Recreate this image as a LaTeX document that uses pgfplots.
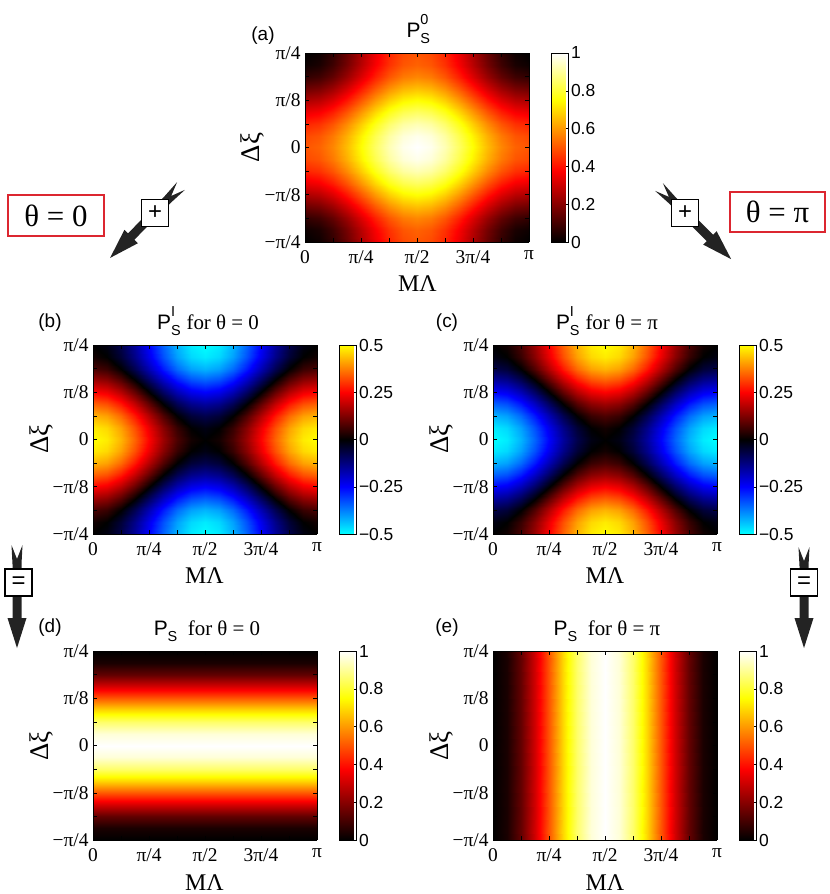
\documentclass[border=0pt]{standalone}
\usepackage{fontspec}
\setmainfont{Liberation Serif}
\setsansfont{Liberation Sans}
\usepackage{pgfplots}
\pgfplotsset{compat=1.18}
\usepackage{pgfplotstable}

\definecolor{boxred}{RGB}{220,38,48}
\definecolor{arrowgray}{RGB}{35,35,35}

\pgfplotsset{
  colormap={mhot}{rgb(0cm)=(0,0,0); rgb(3cm)=(1,0,0); rgb(6cm)=(1,1,0); rgb(8cm)=(1,1,1)},
  colormap={cbr}{rgb(0cm)=(0,1,1); rgb(1cm)=(0,0,1); rgb(2cm)=(0,0,0); rgb(3cm)=(1,0,0); rgb(4cm)=(1,1,0)},
  panel/.style={
    view={0}{90},
    scale only axis, width=224bp, height=189bp,
    xmin=0, xmax=16, ymin=-8, ymax=8,
    enlargelimits=false,
    xtick={0,4,8,12,16}, xticklabels={0,π/4,π/2,3π/4,π},
    ytick={-8,-4,0,4,8}, yticklabels={−π/4,−π/8,0,π/8,π/4},
    minor xtick={2,6,10,14}, minor ytick={-6,-2,2,6},
    ztick=\empty,
    tick align=inside,
    major tick length=4bp, minor tick length=4bp,
    tick style={black, line width=0.5bp},
    axis line style={line width=0.6bp},
    ticklabel style={font=\fontsize{19.5}{19.5}\selectfont},
    xticklabel style={yshift=-5bp},
    yticklabel style={xshift=-1bp},
    colorbar,
    colorbar style={
      at={(parent axis.north east)}, anchor=north west, xshift=14bp,
      scale only axis, width=17bp, height=189bp,
      yticklabel pos=right, ytick pos=right,
      tick align=inside, major tick length=3bp,
      tick style={black, line width=0.5bp},
      axis line style={line width=0.6bp},
      yticklabel style={font=\sffamily\fontsize{17.5}{17.5}\selectfont, xshift=-1bp},
    },
  },
  cb01/.style={colormap name=mhot, point meta min=0, point meta max=1,
    colorbar style={ytick={0,0.2,0.4,0.6,0.8,1}, yticklabels={0,0.2,0.4,0.6,0.8,1}}},
  cbpm/.style={colormap name=cbr, point meta min=-0.5, point meta max=0.5,
    colorbar style={ytick={-0.5,-0.25,0,0.25,0.5}, yticklabels={−0.5,−0.25,0,0.25,0.5}}},
}

% grid: i = M Lambda in units of pi/16, j = Delta xi in units of pi/32
\pgfplotstableread{
i j a b c
0 -8 0 0 0
1 -8 0.019 -0.019 0.019
2 -8 0.0732 -0.0732 0.0732
3 -8 0.1543 -0.1543 0.1543
4 -8 0.25 -0.25 0.25
5 -8 0.3457 -0.3457 0.3457
6 -8 0.4268 -0.4268 0.4268
7 -8 0.481 -0.481 0.481
8 -8 0.5 -0.5 0.5
9 -8 0.481 -0.481 0.481
10 -8 0.4268 -0.4268 0.4268
11 -8 0.3457 -0.3457 0.3457
12 -8 0.25 -0.25 0.25
13 -8 0.1543 -0.1543 0.1543
14 -8 0.0732 -0.0732 0.0732
15 -8 0.019 -0.019 0.019
16 -8 0 0 0
0 -7 0.019 0.019 -0.019
1 -7 0.038 0 0
2 -7 0.0922 -0.0542 0.0542
3 -7 0.1733 -0.1353 0.1353
4 -7 0.269 -0.231 0.231
5 -7 0.3647 -0.3267 0.3267
6 -7 0.4458 -0.4078 0.4078
7 -7 0.5 -0.462 0.462
8 -7 0.519 -0.481 0.481
9 -7 0.5 -0.462 0.462
10 -7 0.4458 -0.4078 0.4078
11 -7 0.3647 -0.3267 0.3267
12 -7 0.269 -0.231 0.231
13 -7 0.1733 -0.1353 0.1353
14 -7 0.0922 -0.0542 0.0542
15 -7 0.038 0 0
16 -7 0.019 0.019 -0.019
0 -6 0.0732 0.0732 -0.0732
1 -6 0.0922 0.0542 -0.0542
2 -6 0.1464 0 0
3 -6 0.2275 -0.0811 0.0811
4 -6 0.3232 -0.1768 0.1768
5 -6 0.4189 -0.2725 0.2725
6 -6 0.5 -0.3536 0.3536
7 -6 0.5542 -0.4078 0.4078
8 -6 0.5732 -0.4268 0.4268
9 -6 0.5542 -0.4078 0.4078
10 -6 0.5 -0.3536 0.3536
11 -6 0.4189 -0.2725 0.2725
12 -6 0.3232 -0.1768 0.1768
13 -6 0.2275 -0.0811 0.0811
14 -6 0.1464 0 0
15 -6 0.0922 0.0542 -0.0542
16 -6 0.0732 0.0732 -0.0732
0 -5 0.1543 0.1543 -0.1543
1 -5 0.1733 0.1353 -0.1353
2 -5 0.2275 0.0811 -0.0811
3 -5 0.3086 0 0
4 -5 0.4043 -0.0957 0.0957
5 -5 0.5 -0.1914 0.1914
6 -5 0.5811 -0.2725 0.2725
7 -5 0.6353 -0.3267 0.3267
8 -5 0.6543 -0.3457 0.3457
9 -5 0.6353 -0.3267 0.3267
10 -5 0.5811 -0.2725 0.2725
11 -5 0.5 -0.1914 0.1914
12 -5 0.4043 -0.0957 0.0957
13 -5 0.3086 0 0
14 -5 0.2275 0.0811 -0.0811
15 -5 0.1733 0.1353 -0.1353
16 -5 0.1543 0.1543 -0.1543
0 -4 0.25 0.25 -0.25
1 -4 0.269 0.231 -0.231
2 -4 0.3232 0.1768 -0.1768
3 -4 0.4043 0.0957 -0.0957
4 -4 0.5 0 0
5 -4 0.5957 -0.0957 0.0957
6 -4 0.6768 -0.1768 0.1768
7 -4 0.731 -0.231 0.231
8 -4 0.75 -0.25 0.25
9 -4 0.731 -0.231 0.231
10 -4 0.6768 -0.1768 0.1768
11 -4 0.5957 -0.0957 0.0957
12 -4 0.5 0 0
13 -4 0.4043 0.0957 -0.0957
14 -4 0.3232 0.1768 -0.1768
15 -4 0.269 0.231 -0.231
16 -4 0.25 0.25 -0.25
0 -3 0.3457 0.3457 -0.3457
1 -3 0.3647 0.3267 -0.3267
2 -3 0.4189 0.2725 -0.2725
3 -3 0.5 0.1914 -0.1914
4 -3 0.5957 0.0957 -0.0957
5 -3 0.6914 0 0
6 -3 0.7725 -0.0811 0.0811
7 -3 0.8267 -0.1353 0.1353
8 -3 0.8457 -0.1543 0.1543
9 -3 0.8267 -0.1353 0.1353
10 -3 0.7725 -0.0811 0.0811
11 -3 0.6914 0 0
12 -3 0.5957 0.0957 -0.0957
13 -3 0.5 0.1914 -0.1914
14 -3 0.4189 0.2725 -0.2725
15 -3 0.3647 0.3267 -0.3267
16 -3 0.3457 0.3457 -0.3457
0 -2 0.4268 0.4268 -0.4268
1 -2 0.4458 0.4078 -0.4078
2 -2 0.5 0.3536 -0.3536
3 -2 0.5811 0.2725 -0.2725
4 -2 0.6768 0.1768 -0.1768
5 -2 0.7725 0.0811 -0.0811
6 -2 0.8536 0 0
7 -2 0.9078 -0.0542 0.0542
8 -2 0.9268 -0.0732 0.0732
9 -2 0.9078 -0.0542 0.0542
10 -2 0.8536 0 0
11 -2 0.7725 0.0811 -0.0811
12 -2 0.6768 0.1768 -0.1768
13 -2 0.5811 0.2725 -0.2725
14 -2 0.5 0.3536 -0.3536
15 -2 0.4458 0.4078 -0.4078
16 -2 0.4268 0.4268 -0.4268
0 -1 0.481 0.481 -0.481
1 -1 0.5 0.462 -0.462
2 -1 0.5542 0.4078 -0.4078
3 -1 0.6353 0.3267 -0.3267
4 -1 0.731 0.231 -0.231
5 -1 0.8267 0.1353 -0.1353
6 -1 0.9078 0.0542 -0.0542
7 -1 0.962 0 0
8 -1 0.981 -0.019 0.019
9 -1 0.962 0 0
10 -1 0.9078 0.0542 -0.0542
11 -1 0.8267 0.1353 -0.1353
12 -1 0.731 0.231 -0.231
13 -1 0.6353 0.3267 -0.3267
14 -1 0.5542 0.4078 -0.4078
15 -1 0.5 0.462 -0.462
16 -1 0.481 0.481 -0.481
0 0 0.5 0.5 -0.5
1 0 0.519 0.481 -0.481
2 0 0.5732 0.4268 -0.4268
3 0 0.6543 0.3457 -0.3457
4 0 0.75 0.25 -0.25
5 0 0.8457 0.1543 -0.1543
6 0 0.9268 0.0732 -0.0732
7 0 0.981 0.019 -0.019
8 0 1 0 0
9 0 0.981 0.019 -0.019
10 0 0.9268 0.0732 -0.0732
11 0 0.8457 0.1543 -0.1543
12 0 0.75 0.25 -0.25
13 0 0.6543 0.3457 -0.3457
14 0 0.5732 0.4268 -0.4268
15 0 0.519 0.481 -0.481
16 0 0.5 0.5 -0.5
0 1 0.481 0.481 -0.481
1 1 0.5 0.462 -0.462
2 1 0.5542 0.4078 -0.4078
3 1 0.6353 0.3267 -0.3267
4 1 0.731 0.231 -0.231
5 1 0.8267 0.1353 -0.1353
6 1 0.9078 0.0542 -0.0542
7 1 0.962 0 0
8 1 0.981 -0.019 0.019
9 1 0.962 0 0
10 1 0.9078 0.0542 -0.0542
11 1 0.8267 0.1353 -0.1353
12 1 0.731 0.231 -0.231
13 1 0.6353 0.3267 -0.3267
14 1 0.5542 0.4078 -0.4078
15 1 0.5 0.462 -0.462
16 1 0.481 0.481 -0.481
0 2 0.4268 0.4268 -0.4268
1 2 0.4458 0.4078 -0.4078
2 2 0.5 0.3536 -0.3536
3 2 0.5811 0.2725 -0.2725
4 2 0.6768 0.1768 -0.1768
5 2 0.7725 0.0811 -0.0811
6 2 0.8536 0 0
7 2 0.9078 -0.0542 0.0542
8 2 0.9268 -0.0732 0.0732
9 2 0.9078 -0.0542 0.0542
10 2 0.8536 0 0
11 2 0.7725 0.0811 -0.0811
12 2 0.6768 0.1768 -0.1768
13 2 0.5811 0.2725 -0.2725
14 2 0.5 0.3536 -0.3536
15 2 0.4458 0.4078 -0.4078
16 2 0.4268 0.4268 -0.4268
0 3 0.3457 0.3457 -0.3457
1 3 0.3647 0.3267 -0.3267
2 3 0.4189 0.2725 -0.2725
3 3 0.5 0.1914 -0.1914
4 3 0.5957 0.0957 -0.0957
5 3 0.6914 0 0
6 3 0.7725 -0.0811 0.0811
7 3 0.8267 -0.1353 0.1353
8 3 0.8457 -0.1543 0.1543
9 3 0.8267 -0.1353 0.1353
10 3 0.7725 -0.0811 0.0811
11 3 0.6914 0 0
12 3 0.5957 0.0957 -0.0957
13 3 0.5 0.1914 -0.1914
14 3 0.4189 0.2725 -0.2725
15 3 0.3647 0.3267 -0.3267
16 3 0.3457 0.3457 -0.3457
0 4 0.25 0.25 -0.25
1 4 0.269 0.231 -0.231
2 4 0.3232 0.1768 -0.1768
3 4 0.4043 0.0957 -0.0957
4 4 0.5 0 0
5 4 0.5957 -0.0957 0.0957
6 4 0.6768 -0.1768 0.1768
7 4 0.731 -0.231 0.231
8 4 0.75 -0.25 0.25
9 4 0.731 -0.231 0.231
10 4 0.6768 -0.1768 0.1768
11 4 0.5957 -0.0957 0.0957
12 4 0.5 0 0
13 4 0.4043 0.0957 -0.0957
14 4 0.3232 0.1768 -0.1768
15 4 0.269 0.231 -0.231
16 4 0.25 0.25 -0.25
0 5 0.1543 0.1543 -0.1543
1 5 0.1733 0.1353 -0.1353
2 5 0.2275 0.0811 -0.0811
3 5 0.3086 0 0
4 5 0.4043 -0.0957 0.0957
5 5 0.5 -0.1914 0.1914
6 5 0.5811 -0.2725 0.2725
7 5 0.6353 -0.3267 0.3267
8 5 0.6543 -0.3457 0.3457
9 5 0.6353 -0.3267 0.3267
10 5 0.5811 -0.2725 0.2725
11 5 0.5 -0.1914 0.1914
12 5 0.4043 -0.0957 0.0957
13 5 0.3086 0 0
14 5 0.2275 0.0811 -0.0811
15 5 0.1733 0.1353 -0.1353
16 5 0.1543 0.1543 -0.1543
0 6 0.0732 0.0732 -0.0732
1 6 0.0922 0.0542 -0.0542
2 6 0.1464 0 0
3 6 0.2275 -0.0811 0.0811
4 6 0.3232 -0.1768 0.1768
5 6 0.4189 -0.2725 0.2725
6 6 0.5 -0.3536 0.3536
7 6 0.5542 -0.4078 0.4078
8 6 0.5732 -0.4268 0.4268
9 6 0.5542 -0.4078 0.4078
10 6 0.5 -0.3536 0.3536
11 6 0.4189 -0.2725 0.2725
12 6 0.3232 -0.1768 0.1768
13 6 0.2275 -0.0811 0.0811
14 6 0.1464 0 0
15 6 0.0922 0.0542 -0.0542
16 6 0.0732 0.0732 -0.0732
0 7 0.019 0.019 -0.019
1 7 0.038 0 0
2 7 0.0922 -0.0542 0.0542
3 7 0.1733 -0.1353 0.1353
4 7 0.269 -0.231 0.231
5 7 0.3647 -0.3267 0.3267
6 7 0.4458 -0.4078 0.4078
7 7 0.5 -0.462 0.462
8 7 0.519 -0.481 0.481
9 7 0.5 -0.462 0.462
10 7 0.4458 -0.4078 0.4078
11 7 0.3647 -0.3267 0.3267
12 7 0.269 -0.231 0.231
13 7 0.1733 -0.1353 0.1353
14 7 0.0922 -0.0542 0.0542
15 7 0.038 0 0
16 7 0.019 0.019 -0.019
0 8 0 0 0
1 8 0.019 -0.019 0.019
2 8 0.0732 -0.0732 0.0732
3 8 0.1543 -0.1543 0.1543
4 8 0.25 -0.25 0.25
5 8 0.3457 -0.3457 0.3457
6 8 0.4268 -0.4268 0.4268
7 8 0.481 -0.481 0.481
8 8 0.5 -0.5 0.5
9 8 0.481 -0.481 0.481
10 8 0.4268 -0.4268 0.4268
11 8 0.3457 -0.3457 0.3457
12 8 0.25 -0.25 0.25
13 8 0.1543 -0.1543 0.1543
14 8 0.0732 -0.0732 0.0732
15 8 0.019 -0.019 0.019
16 8 0 0 0
}\maindata

\pgfplotstableread{
x y v
0 -8 0
16 -8 0
0 -7 0.0381
16 -7 0.0381
0 -6 0.1464
16 -6 0.1464
0 -5 0.3087
16 -5 0.3087
0 -4 0.5
16 -4 0.5
0 -3 0.6913
16 -3 0.6913
0 -2 0.8536
16 -2 0.8536
0 -1 0.9619
16 -1 0.9619
0 0 1
16 0 1
0 1 0.9619
16 1 0.9619
0 2 0.8536
16 2 0.8536
0 3 0.6913
16 3 0.6913
0 4 0.5
16 4 0.5
0 5 0.3087
16 5 0.3087
0 6 0.1464
16 6 0.1464
0 7 0.0381
16 7 0.0381
0 8 0
16 8 0
}\ddata

\pgfplotstableread{
x y v
0 -8 0
1 -8 0.0381
2 -8 0.1464
3 -8 0.3087
4 -8 0.5
5 -8 0.6913
6 -8 0.8536
7 -8 0.9619
8 -8 1
9 -8 0.9619
10 -8 0.8536
11 -8 0.6913
12 -8 0.5
13 -8 0.3087
14 -8 0.1464
15 -8 0.0381
16 -8 0
0 8 0
1 8 0.0381
2 8 0.1464
3 8 0.3087
4 8 0.5
5 8 0.6913
6 8 0.8536
7 8 0.9619
8 8 1
9 8 0.9619
10 8 0.8536
11 8 0.6913
12 8 0.5
13 8 0.3087
14 8 0.1464
15 8 0.0381
16 8 0
}\edata

\newcommand{\fatarrow}[4]{%
  \begin{scope}[shift={(#1bp,#2bp)}, rotate=#3, x=1bp, y=1bp]
    \fill[arrowgray] (0,5.5) -- (14,0) -- (0,-5.5) -- (19,-4.5) -- (#4-30,-4.5) -- (#4-30,-9.5)
      -- (#4,0) -- (#4-30,9.5) -- (#4-30,4.5) -- (19,4.5) -- cycle;
  \end{scope}}
\newcommand{\tfont}{\fontsize{21}{21}\selectfont}
\newcommand{\sfont}{\fontsize{14.5}{14.5}\selectfont}
\newcommand{\PSsup}[1]{{\sffamily\tfont P\makebox[0pt][l]{\raisebox{-0.3em}{\sfont S}}\raisebox{0.62em}{\sfont #1}\hspace{0.55em}}}
\newcommand{\PSsub}{{\sffamily\tfont P\raisebox{-0.3em}{\sfont S}\hspace{0.5em}}}

\begin{document}
\begin{tikzpicture}
\path[use as bounding box] (0,0) rectangle (830bp,-894bp);

% (a)
\begin{axis}[panel, cb01, at={(305bp,-53bp)}, anchor=north west]
\addplot3[surf, shader=interp, mesh/rows=17, mesh/cols=17, point meta=explicit]
  table[x=i, y=j, z=a, meta=a] {\maindata};
\end{axis}
% (b)
\begin{axis}[panel, cbpm, at={(93bp,-345bp)}, anchor=north west]
\addplot3[surf, shader=interp, mesh/rows=17, mesh/cols=17, point meta=explicit]
  table[x=i, y=j, z=b, meta=b] {\maindata};
\end{axis}
% (c)
\begin{axis}[panel, cbpm, at={(493bp,-345bp)}, anchor=north west]
\addplot3[surf, shader=interp, mesh/rows=17, mesh/cols=17, point meta=explicit]
  table[x=i, y=j, z=c, meta=c] {\maindata};
\end{axis}
% (d)
\begin{axis}[panel, cb01, at={(93bp,-651bp)}, anchor=north west]
\addplot3[surf, shader=interp, mesh/rows=17, mesh/cols=2, point meta=explicit]
  table[x=x, y=y, z=v, meta=v] {\ddata};
\end{axis}
% (e)
\begin{axis}[panel, cb01, at={(493bp,-651bp)}, anchor=north west]
\addplot3[surf, shader=interp, mesh/rows=2, mesh/cols=17, point meta=explicit]
  table[x=x, y=y, z=v, meta=v] {\edata};
\end{axis}

\begin{scope}[x=1bp, y=1bp]
  % panel letters
  \begin{scope}[every node/.style={font=\sffamily\fontsize{19}{19}\selectfont}]
    \node at (263,-36) {(a)};
    \node at (50,-323) {(b)};
    \node at (447,-323) {(c)};
    \node at (50,-628) {(d)};
    \node at (447,-628) {(e)};
  \end{scope}
  % titles
  \node[anchor=base] at (417.5,-37) {\PSsup{0}};
  \node[anchor=base] at (208,-329) {\PSsup{I}\tfont for  θ = 0};
  \node[anchor=base] at (607,-329) {\PSsup{I}\tfont for  θ = π};
  \node[anchor=base] at (207,-635) {\PSsub\tfont for  θ = 0};
  \node[anchor=base] at (607,-635) {\PSsub\tfont for  θ = π};
  % axis labels
  \begin{scope}[every node/.style={font=\fontsize{24}{24}\selectfont}]
    \node at (417.5,-284) {MΛ};
    \node at (204.5,-576) {MΛ};
    \node at (605,-576) {MΛ};
    \node[anchor=base] at (204.5,-890) {MΛ};
    \node[anchor=base] at (605,-890) {MΛ};
  \end{scope}
  \begin{scope}[every node/.style={font=\fontsize{27}{27}\selectfont, rotate=90}]
    \node at (252,-147.5) {Δξ};
    \node at (41,-439) {Δξ};
    \node at (441,-439) {Δξ};
    \node at (41,-746) {Δξ};
    \node at (441,-746) {Δξ};
  \end{scope}
  % red boxes
  \draw[boxred, line width=2bp] (8,-195) rectangle (104,-236);
  \node[font=\fontsize{31}{31}\selectfont] at (56,-215.5) {θ = 0};
  \draw[boxred, line width=2bp] (730,-192) rectangle (825,-232);
  \node[font=\fontsize{31}{31}\selectfont] at (777.5,-212) {θ = π};
\end{scope}

% arrows
\fatarrow{181}{-186}{-134.6}{101}
\fatarrow{659}{-187}{-45}{102}
\fatarrow{17}{-545}{-90}{103}
\fatarrow{804}{-547}{-90}{101}

\begin{scope}[x=1bp, y=1bp]
  \node[draw, fill=white, line width=1.3bp, minimum size=27bp, inner sep=0pt,
        font=\sffamily\fontsize{24}{24}\selectfont] at (155,-213) {+};
  \node[draw, fill=white, line width=1.3bp, minimum size=27bp, inner sep=0pt,
        font=\sffamily\fontsize{24}{24}\selectfont] at (685,-213) {+};
  \node[draw, fill=white, line width=1.3bp, minimum size=27bp, inner sep=0pt,
        font=\sffamily\fontsize{24}{24}\selectfont] at (18.5,-582.5) {=};
  \node[draw, fill=white, line width=1.3bp, minimum size=27bp, inner sep=0pt,
        font=\sffamily\fontsize{24}{24}\selectfont] at (804,-582.5) {=};
\end{scope}
\end{tikzpicture}
\end{document}
